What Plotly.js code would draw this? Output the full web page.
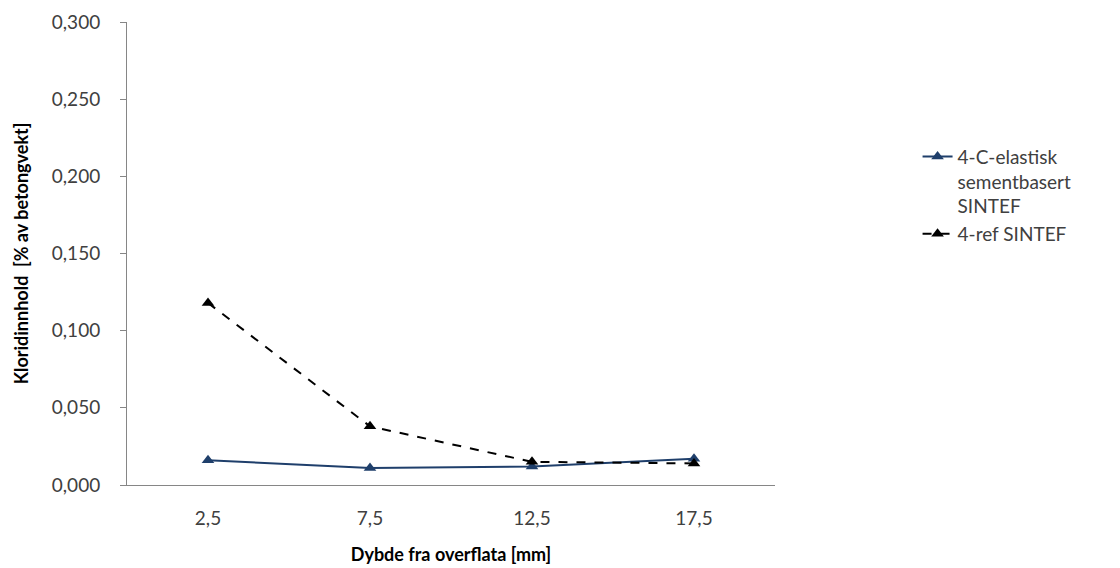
<!DOCTYPE html>
<html>
<head>
<meta charset="utf-8">
<script src="https://cdn.plot.ly/plotly-3.0.1.min.js"></script>
<style>html,body{margin:0;padding:0;background:#fff;}#chart{width:1120px;height:568px;}</style>
</head>
<body>
<div id="chart"></div>
<script>
var categories = ["2,5", "7,5", "12,5", "17,5"];
var seriesNames = ["4-C-elastisk<br>sementbasert<br>SINTEF", "4-ref SINTEF"];
var elastiskValues = [0.016, 0.011, 0.012, 0.017];
var refValues = [0.118, 0.038, 0.015, 0.014];
var yTitle = "Kloridinnhold  [% av betongvekt]";
var xTitle = "Dybde fra overflata [mm]";

var font = "Lato, 'Open Sans', sans-serif";
var traces = [
  {x: categories, y: elastiskValues, name: seriesNames[0], type: "scatter", mode: "lines+markers",
   line: {color: "#1F3F6B", width: 2}, marker: {symbol: "triangle-up", size: 11, color: "#1F3F6B"}},
  {x: categories, y: refValues, name: seriesNames[1], type: "scatter", mode: "lines+markers",
   line: {color: "#000000", width: 2, dash: "dash"}, marker: {symbol: "triangle-up", size: 11, color: "#000000"}}
];
var layout = {
  width: 1120, height: 568,
  margin: {l: 127, r: 345, t: 22, b: 83},
  paper_bgcolor: "#fff", plot_bgcolor: "#fff",
  separators: ", ",
  font: {family: font, size: 19, color: "#404040"},
  showlegend: true,
  legend: {x: 1.22, y: 0.75, xanchor: "left", yanchor: "top", valign: "top",
    font: {family: font, size: 19, color: "#404040"},
    tracegroupgap: 0, bgcolor: "rgba(0,0,0,0)"},
  xaxis: {type: "category", range: [-0.5, 3.5], showline: true, linecolor: "#868686", linewidth: 1, showgrid: false, zeroline: false,
    ticks: "", ticklabelstandoff: 16, tickfont: {family: font, size: 19, color: "#404040"},
    title: {text: xTitle, font: {family: font, size: 18, color: "#000", weight: "bold"}, standoff: 20}},
  yaxis: {range: [0, 0.3], dtick: 0.05, tickformat: ".3f", showline: true, linecolor: "#868686", linewidth: 1,
    showgrid: false, zeroline: false, ticks: "outside", ticklen: 6, tickcolor: "#868686", ticklabelstandoff: 16,
    tickfont: {family: font, size: 19, color: "#404040"},
    title: {text: yTitle, font: {family: font, size: 18, color: "#000", weight: "bold"}, standoff: 18}}
};
Plotly.newPlot("chart", traces, layout, {displayModeBar: false});
</script>
</body>
</html>
